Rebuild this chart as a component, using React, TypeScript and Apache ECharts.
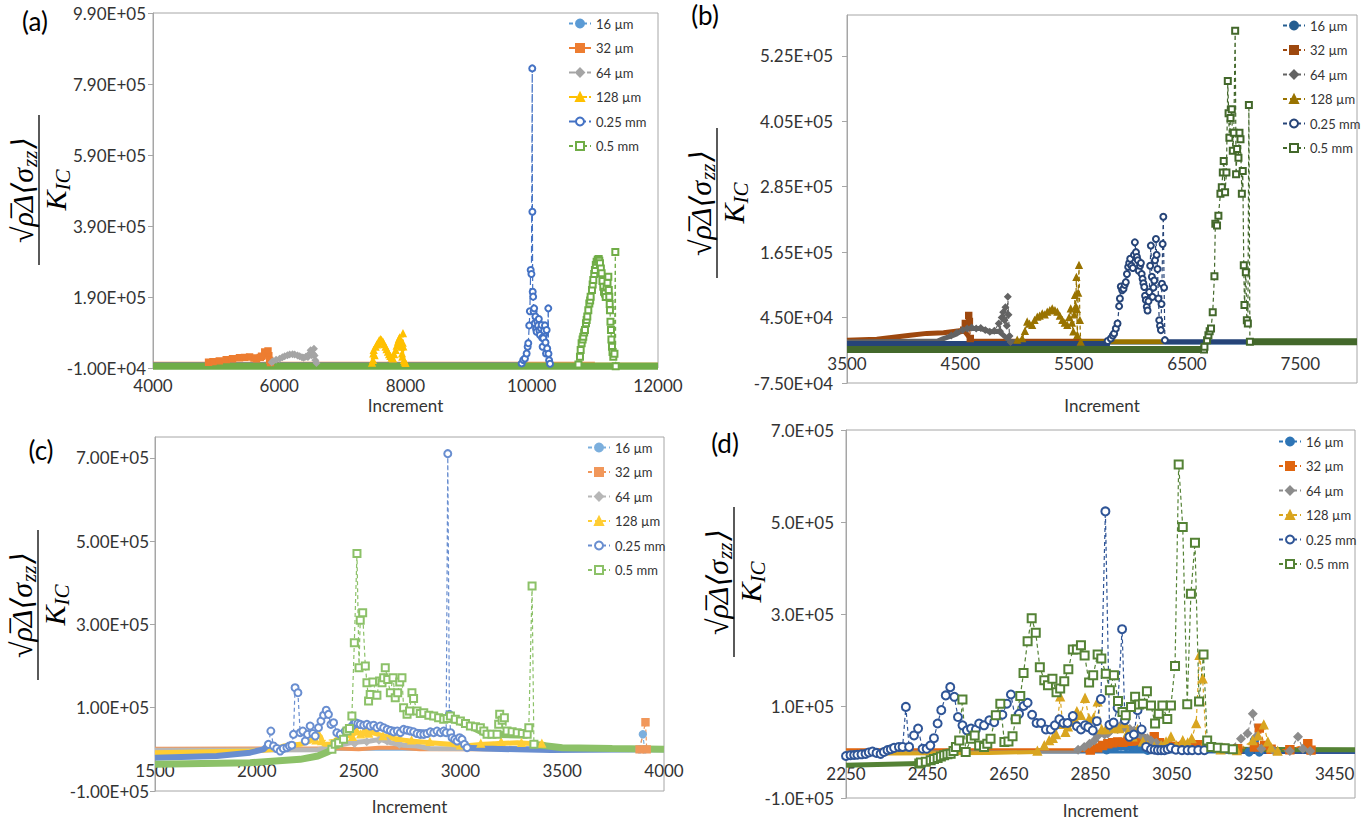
import React, { useEffect, useRef } from 'react';
import * as echarts from 'echarts';

type P = [number, number] | null;

// ---------- shared labels ----------
const SIZES = ['16 µm', '32 µm', '64 µm', '128 µm', '0.25 mm', '0.5 mm'];
const PANEL_TAGS = ['(a)', '(b)', '(c)', '(d)'];
const X_TITLE = 'Increment';

// ---------- axis ranges ----------
const A_X = [4000, 12000, 2000];
const A_Y = [-10000, 990000, 200000];
const B_X = [3500, 8000, 1000];
const B_Y = [-75000, 600000, 120000];
const C_X = [1500, 4000, 500];
const C_Y = [-100000, 750000, 200000];
const D_X = [2250, 3500, 200];
const D_Y = [-100000, 700000, 200000];

// ---------- panel (a) ----------
const A16_PTS: P[] = [];
const A16_BAND: P[] = [[4000, 0], [12000, 0]];
const A32_PTS: P[] = [[4880, 6000], [4950, 8000], [5050, 10000], [5160, 13500], [5260, 16000], [5370, 19000], [5450, 20000], [5530, 21000], [5600, 18000], [5640, 16000], [5700, 20000], [5720, 23000], [5770, 35000], [5800, 30000], [5822, 38000], [5835, 25000], [5848, 11600], [5860, 5000]];
const A32_BAND: P[] = [[4000, 5000], [11000, 5000]];
const A64_PTS: P[] = [[5880, 6000], [5901, 9000], [5950, 13000], [6006, 16000], [6050, 20000], [6086, 23000], [6130, 26000], [6165, 28000], [6210, 29000], [6244, 28000], [6290, 25000], [6323, 23000], [6360, 20000], [6387, 19000], [6420, 22000], [6455, 21000], [6480, 30000], [6497, 40000], [6515, 26000], [6534, 30000], [6550, 44000], [6560, 25000], [6571, 12000], [6590, 4000]];
const A64_BAND: P[] = [[4000, 3000], [12000, 3000]];
const A128_PTS: P[] = [[7470, 4000], [7485, 11600], [7490, 30000], [7496, 40000], [7510, 25000], [7527, 49000], [7545, 55000], [7564, 59000], [7580, 66000], [7601, 70000], [7620, 68000], [7643, 63000], [7660, 56000], [7685, 49000], [7700, 42000], [7722, 35000], [7740, 28000], [7760, 23000], [7780, 18000], [7802, 16000], [7820, 28000], [7844, 40000], [7860, 52000], [7881, 63000], [7895, 70000], [7907, 75000], [7920, 60000], [7934, 49000], [7945, 30000], [7950, 21000], [7955, 60000], [7960, 87000], [7965, 50000], [7976, 11600], [7986, 7000], [8000, 3000]];
const A128_BAND: P[] = [[4000, 2000], [12000, 2000]];
const A025_PTS: P[] = [[9840, 3000], [9866, 12500], [9892, 17000], [9919, 31000], [9935, 50000], [9945, 60000], [9960, 110000], [9970, 150000], [9983, 266000], [9995, 255000], [10008, 834000], [10010, 430000], [10015, 205000], [10022, 191000], [10030, 149000], [10038, 158000], [10048, 116000], [10058, 135000], [10068, 100000], [10077, 92000], [10088, 121000], [10100, 110000], [10112, 128000], [10122, 95000], [10130, 83000], [10145, 102000], [10157, 111000], [10165, 75000], [10172, 50000], [10183, 74000], [10195, 95000], [10209, 110000], [10218, 62000], [10226, 31000], [10236, 97000], [10245, 45000], [10262, 158000], [10265, 30000], [10275, 12000], [10290, 2000]];
const A025_BAND: P[] = [[4000, 0], [9840, 0], null, [10290, -4000], [11300, -4000]];
const A05_PTS: P[] = [[10740, 0], [10764, 22000], [10775, 41000], [10790, 60000], [10805, 70000], [10816, 78000], [10830, 90000], [10843, 97000], [10859, 116000], [10870, 125000], [10880, 135000], [10896, 153000], [10912, 172000], [10925, 180000], [10933, 191000], [10954, 210000], [10965, 225000], [10975, 238000], [10990, 255000], [11001, 266000], [11015, 280000], [11028, 289000], [11045, 295000], [11060, 297000], [11070, 292000], [11081, 285000], [11095, 270000], [11107, 257000], [11120, 235000], [11133, 219000], [11145, 205000], [11160, 200000], [11172, 190000], [11186, 219000], [11200, 230000], [11213, 247000], [11220, 210000], [11228, 191000], [11235, 170000], [11239, 153000], [11247, 120000], [11255, 97000], [11262, 70000], [11271, 50000], [11280, 35000], [11292, 22000], [11310, 30000], [11324, 317000], [11330, -5000]];
const A05_BAND: P[] = [[4000, -5000], [12000, -5000]];

// ---------- panel (b) ----------
const B16_PTS: P[] = [];
const B16_BAND: P[] = [[3500, -1500], [8000, -1500]];
const B32_PTS: P[] = [[4530, 22000], [4544, 34000], [4560, 30000], [4574, 49000], [4580, 38000], [4588, 6600]];
const B32_BAND: P[] = [[3500, 3600], [3763, 5400], [4058, 12700], [4205, 16000], [4352, 17000], [4530, 22000], [4588, 6600], [4600, 1500], [5800, 1500]];
const B64_PTS: P[] = [[4420, 12000], [4470, 17000], [4520, 22000], [4560, 25000], [4600, 27000], [4640, 25000], [4680, 26000], [4720, 22000], [4760, 19000], [4800, 21000], [4839, 34000], [4850, 20000], [4865, 45000], [4878, 55000], [4890, 40000], [4898, 64000], [4910, 30000], [4919, 83000], [4925, 50000], [4934, 11000], [4943, 0]];
const B64_BAND: P[] = [[3500, 0], [4300, 2000], [4352, 6600], [4441, 12700], [4500, 19000], [4588, 25000], [4677, 25000], [4765, 19000], [4839, 20000], [4943, 1000], [5000, 500]];
const B128_PTS: P[] = [[5002, 3600], [5046, 6600], [5070, 20000], [5090, 37000], [5110, 33000], [5134, 31000], [5155, 40000], [5179, 46000], [5200, 48000], [5223, 52000], [5245, 50000], [5267, 55000], [5290, 58000], [5311, 61000], [5335, 58000], [5356, 55000], [5378, 48000], [5400, 40000], [5422, 35000], [5444, 31000], [5460, 45000], [5474, 61000], [5485, 35000], [5497, 19000], [5505, 50000], [5512, 86000], [5518, 65000], [5524, 119000], [5528, 60000], [5532, 12700], [5540, 90000], [5547, 141000], [5555, 40000], [5562, 0]];
const B128_BAND: P[] = [[5562, 500], [6300, 500]];
const B025_PTS: P[] = [[5800, 2000], [5828, 6600], [5845, 12000], [5857, 16000], [5872, 25000], [5887, 34000], [5901, 66000], [5908, 80000], [5916, 102000], [5928, 95000], [5940, 98000], [5950, 105000], [5960, 110000], [5970, 125000], [5981, 138000], [5990, 145000], [5999, 153000], [6010, 140000], [6022, 136000], [6032, 160000], [6040, 183000], [6050, 165000], [6058, 156000], [6066, 150000], [6075, 131000], [6085, 140000], [6093, 145000], [6100, 125000], [6108, 116000], [6115, 108000], [6123, 101000], [6130, 85000], [6137, 77000], [6145, 65000], [6152, 58000], [6160, 75000], [6167, 92000], [6175, 140000], [6181, 177000], [6190, 120000], [6196, 83000], [6204, 100000], [6211, 113000], [6218, 150000], [6226, 189000], [6232, 160000], [6240, 134000], [6248, 80000], [6255, 40000], [6262, 30000], [6270, 22000], [6275, 70000], [6279, 107000], [6285, 180000], [6291, 230000], [6298, 100000], [6305, 3600]];
const B025_BAND: P[] = [[3500, -2500], [5820, -2500], null, [6305, 500], [7040, 500]];
const B05_PTS: P[] = [[6650, -13500], [6654, -8600], [6677, 3600], [6689, 12700], [6700, 20000], [6712, 25000], [6727, 55000], [6742, 121000], [6750, 217000], [6765, 214000], [6777, 232000], [6795, 272000], [6807, 284000], [6816, 311000], [6824, 332000], [6836, 275000], [6848, 311000], [6860, 479000], [6867, 420000], [6874, 375000], [6884, 411000], [6895, 427000], [6904, 351000], [6913, 384000], [6925, 571000], [6933, 308000], [6942, 354000], [6954, 338000], [6963, 384000], [6972, 372000], [6984, 272000], [6992, 314000], [7001, 141000], [7007, 68000], [7019, 128000], [7028, 40000], [7037, 34000], [7046, 435000], [7055, 500]];
const B05_BAND: P[] = [[3500, -13500], [6650, -13500], null, [7055, 500], [8000, 500]];

// ---------- panel (c) ----------
const C16_PTS: P[] = [[3880, 0], [3896, 36000], [3905, 0]];
const C16_BAND: P[] = [[1500, 0], [4000, 0]];
const C32_PTS: P[] = [[3880, 0], [3909, 65000], [3915, 0]];
const C32_BAND: P[] = [[1500, 1600], [2400, 2000], [2500, 0], [2600, 4000], [2700, 4000], [2800, 0], [4000, 0]];
const C64_PTS: P[] = [[2480, 14000], [2540, 18000], [2600, 22000], [2640, 20000], [2700, 12000]];
const C64_BAND: P[] = [[1500, -2400], [2300, -1000], [2459, 16000], [2557, 20000], [2606, 24000], [2656, 16000], [2721, 10000], [2787, 8000], [2850, 2000], [4000, 0]];
const C128_PTS: P[] = [[2290, 22000], [2305, 36000], [2318, 20000], [2470, 30000], [2490, 45000], [2510, 36000], [2530, 48000], [2550, 38000], [2580, 44000], [2620, 32000], [2660, 40000], [2700, 28000], [2760, 22000], [2850, 18000], [3000, 10000], [3100, 14000], [3200, 18000], [3300, 16000], [3400, 14000]];
const C128_BAND: P[] = [[1500, -8000], [1967, -4000], [2049, -1600], [2082, 0], [2131, 8000], [2213, 12000], [2262, 20000], [2295, 32000], [2311, 32000], [2328, 12000], [2361, 12000], [2393, 24000], [2443, 32000], [2492, 40000], [2524, 36000], [2557, 42000], [2623, 32000], [2688, 24000], [2754, 20000], [2852, 16000], [2951, 12000], [3016, 8000], [3115, 12000], [3279, 16000], [3410, 12000], [3443, 2000], [4000, 0]];
const C025_PTS: P[] = [[2057, 12000], [2069, 44000], [2082, 8000], [2098, 2000], [2115, -4000], [2130, 2000], [2148, 4000], [2160, 8000], [2172, 10000], [2180, 36000], [2188, 148000], [2202, 136000], [2213, 40000], [2226, 44000], [2238, 20000], [2249, 36000], [2262, 56000], [2275, 38000], [2287, 32000], [2303, 52000], [2315, 68000], [2328, 82000], [2341, 94000], [2352, 84000], [2364, 60000], [2377, 64000], [2393, 40000], [2410, 36000], [2434, 44000], [2459, 52000], [2472, 58000], [2484, 64000], [2496, 62000], [2508, 60000], [2525, 58000], [2541, 60000], [2557, 56000], [2574, 58000], [2590, 52000], [2606, 56000], [2623, 52000], [2640, 48000], [2656, 45000], [2672, 42000], [2690, 44000], [2705, 40000], [2721, 48000], [2738, 46000], [2754, 44000], [2770, 42000], [2787, 38000], [2803, 36000], [2820, 36000], [2836, 38000], [2852, 42000], [2869, 40000], [2885, 44000], [2902, 40000], [2918, 44000], [2930, 40000], [2938, 710000], [2946, 84000], [2952, 40000], [2959, 28000], [2972, 24000], [2984, 20000], [2996, 28000], [3008, 24000], [3020, 12000], [3033, 4000]];
const C025_BAND: P[] = [[1500, -20000], [1803, -16000], [1967, -8000], [2033, 0], [2057, 12000], null, [2440, 46000], [2508, 58000], [2623, 50000], [2721, 44000], [2852, 40000], [2930, 38000], null, [3033, 4000], [3115, 2000], [3279, 0], [3443, -1600], [4000, 0]];
const C05_PTS: P[] = [[2369, 0], [2385, 12000], [2402, 16000], [2426, 24000], [2443, 44000], [2455, 50000], [2467, 80000], [2479, 256000], [2492, 470000], [2502, 196000], [2508, 310000], [2520, 328000], [2533, 200000], [2541, 160000], [2549, 116000], [2557, 132000], [2570, 162000], [2590, 130000], [2603, 164000], [2615, 160000], [2623, 172000], [2631, 196000], [2643, 168000], [2656, 136000], [2669, 172000], [2680, 124000], [2692, 136000], [2702, 162000], [2713, 172000], [2721, 100000], [2738, 84000], [2750, 92000], [2762, 136000], [2770, 122000], [2787, 92000], [2803, 86000], [2820, 88000], [2845, 82000], [2869, 80000], [2893, 76000], [2918, 72000], [2935, 74000], [2951, 80000], [2975, 72000], [3000, 68000], [3025, 62000], [3049, 56000], [3074, 54000], [3098, 52000], [3115, 44000], [3131, 36000], [3155, 36000], [3180, 36000], [3188, 60000], [3193, 84000], [3205, 70000], [3216, 76000], [3229, 44000], [3254, 42000], [3279, 40000], [3304, 38000], [3328, 36000], [3336, 52000], [3352, 392000], [3361, 12000]];
const C05_BAND: P[] = [[1500, -36000], [1967, -32000], [2213, -24000], [2300, -16000], [2350, -6000], [2369, 0], null, [2787, 90000], [2869, 78000], [2951, 74000], [3049, 56000], [3131, 36000], [3330, 34000], null, [3361, 12000], [3500, 4000], [3746, 2000], [4000, 0]];

// ---------- panel (d) ----------
const D16_PTS: P[] = [[2890, 5000], [2901, 9000], [2913, 11000], [2925, 13000], [2938, 12000], [2950, 11000], [2963, 10000], [2975, 11000], [2991, 4000], null, [3240, 0], [3253, 25000], [3265, 0]];
const D16_BAND: P[] = [[2250, 0], [3500, 0]];
const D32_PTS: P[] = [[2850, 4000], [2868, 9000], [2880, 14000], [2893, 18000], [2905, 20000], [2917, 22000], [2930, 21000], [2942, 23000], [2952, 24000], [2962, 25000], [2975, 29000], [2991, 18000], [3007, 33000], [3020, 20000], [3040, 13000], [3060, 12000], [3080, 14000], [3100, 16000], [3114, 16000], [3140, 10000], [3170, 8000], [3212, 7000], [3253, 11000], [3265, 52000], [3278, 14000], [3294, 6000], [3340, 5000], [3384, 18000], [3392, 4000]];
const D32_BAND: P[] = [[2250, 4000], [2850, 4000], null, [3392, 4000], [3500, 4000]];
const D64_PTS: P[] = [[2820, 5000], [2835, 11000], [2848, 18000], [2860, 25000], [2868, 35000], [2876, 43000], [2885, 38000], [2893, 40000], [2901, 48000], [2909, 54000], [2917, 50000], [2925, 58000], [2931, 52000], [2937, 54000], [2947, 50000], [2958, 47000], [2968, 40000], [2979, 33000], [2990, 30000], [2999, 25000], [3012, 20000], [3024, 14000], [3036, 12000], [3048, 9000], [3080, 6000], [3120, 5000], [3160, 8000], [3190, 7000], [3220, 29000], [3236, 40000], [3249, 83000], [3257, 33000], [3270, 7000], [3300, 3000], [3340, 2000], [3360, 33000], [3372, 7000], [3390, 2000]];
const D64_BAND: P[] = [[2250, 0], [2820, 0], null, [3390, 2000], [3500, 0]];
const D128_PTS: P[] = [[2720, 2000], [2737, 14000], [2749, 25000], [2758, 30000], [2766, 38000], [2776, 120000], [2782, 60000], [2789, 43000], [2795, 55000], [2802, 65000], [2810, 75000], [2817, 88000], [2827, 80000], [2837, 117000], [2847, 72000], [2858, 74000], [2868, 109000], [2878, 49000], [2888, 49000], [2899, 58000], [2909, 51000], [2921, 51000], [2934, 62000], [2942, 43000], [2954, 33000], [2966, 49000], [2979, 22000], [2991, 14000], [3007, 11000], [3024, 14000], [3036, 22000], [3048, 33000], [3061, 14000], [3077, 25000], [3089, 20000], [3099, 29000], [3110, 62000], [3118, 210000], [3126, 159000], [3134, 25000], [3147, 11000], [3170, 5000], [3210, 3000], [3249, 25000], [3262, 35000], [3276, 59000], [3286, 22000], [3294, 9000], [3310, 2000]];
const D128_BAND: P[] = [[2250, -4000], [2600, -2000], [2720, 0], null, [3310, 2000], [3500, 0]];
const D025_PTS: P[] = [[2250, -8700], [2261, -7000], [2270, -6500], [2278, -6000], [2288, -5000], [2298, -4000], [2306, -1000], [2315, 1000], [2325, -2000], [2335, -4000], [2343, 0], [2352, 4000], [2360, 6000], [2368, 9000], [2380, 11000], [2389, 11000], [2397, 98000], [2405, 11000], [2417, 36000], [2427, 51000], [2438, 7000], [2448, 7000], [2457, 14000], [2466, 30000], [2475, 62000], [2484, 91000], [2495, 123000], [2506, 141000], [2516, 120000], [2525, 76000], [2536, 58000], [2547, 47000], [2557, 51000], [2569, 49000], [2577, 62000], [2589, 58000], [2602, 69000], [2614, 65000], [2624, 80000], [2634, 81000], [2645, 105000], [2655, 125000], [2666, 72000], [2675, 83000], [2686, 100000], [2696, 107000], [2707, 81000], [2718, 63000], [2729, 63000], [2741, 49000], [2753, 49000], [2763, 58000], [2774, 71000], [2784, 63000], [2794, 63000], [2807, 78000], [2817, 56000], [2827, 49000], [2837, 58000], [2845, 54000], [2856, 47000], [2866, 67000], [2876, 115000], [2887, 523000], [2897, 59000], [2907, 64000], [2917, 96000], [2928, 267000], [2935, 69000], [2946, 33000], [2957, 38000], [2966, 91000], [2976, 49000], [2987, 11000], [2999, 6000], [3008, 5000], [3016, 4000], [3024, 4000], [3032, 4000], [3040, 6000], [3048, 9000], [3060, 5000], [3075, 4000], [3089, 4000], [3100, 4000], [3115, 4000], [3130, 4000]];
const D025_BAND: P[] = [[3130, 4000], [3200, 0], [3500, 0]];
const D05_PTS: P[] = [[2430, -25000], [2434, -23000], [2446, -21000], [2458, -18000], [2466, -15000], [2475, -13000], [2483, -10000], [2491, -7000], [2499, -5000], [2507, -4000], [2514, 2000], [2520, 11000], [2528, 25000], [2536, 114000], [2544, 0], [2557, 29000], [2566, 36000], [2577, 14000], [2589, 11000], [2597, 18000], [2605, 29000], [2618, 80000], [2629, 105000], [2639, 22000], [2649, 23000], [2659, 34000], [2667, 71000], [2678, 122000], [2686, 172000], [2696, 241000], [2706, 291000], [2716, 259000], [2726, 184000], [2737, 156000], [2746, 145000], [2757, 159000], [2767, 130000], [2776, 138000], [2786, 154000], [2796, 180000], [2807, 223000], [2817, 223000], [2827, 232000], [2836, 210000], [2847, 151000], [2857, 167000], [2868, 212000], [2877, 203000], [2888, 170000], [2898, 134000], [2908, 167000], [2918, 111000], [2929, 87000], [2937, 80000], [2950, 98000], [2960, 120000], [2970, 103000], [2979, 105000], [2989, 132000], [2999, 101000], [3009, 62000], [3018, 83000], [3027, 101000], [3039, 72000], [3048, 101000], [3058, 187000], [3067, 625000], [3077, 489000], [3088, 104000], [3097, 344000], [3107, 455000], [3117, 110000], [3128, 212000], [3137, 25000], [3147, 11000], [3163, 9000], [3180, 8000], [3200, 6000]];
const D05_BAND: P[] = [[2250, -29000], [2430, -25000], null, [3200, 6000], [3500, 5000]];

// ---------- styling (not data) ----------
const SYMBOLS = ['circle', 'rect', 'diamond', 'triangle', 'emptyCircle', 'emptyRect'];
const FONT = 'Lato, "Open Sans", sans-serif';

type Panel = {
  id: string; tag: string;
  x: number[]; y: number[]; dec: number;
  grid: { left: number; top: number; width: number; height: number };
  colors: string[]; dash: any[]; bandW: number[]; sym: number;
  pts: P[][]; bands: P[][];
  legend: { left: number; top: number };
  tagPos: [number, number]; titlePos: [number, number]; incY: number;
  yMargin: number; showMaxX: boolean; showMaxY: boolean;
};

const PANELS: Panel[] = [
  {
    id: 'a', tag: PANEL_TAGS[0], x: A_X, y: A_Y, dec: 2,
    grid: { left: 153, top: 13, width: 505, height: 355 },
    colors: ['#5B9BD5', '#ED7D31', '#A5A5A5', '#FFC000', '#4472C4', '#70AD47'],
    dash: [[4, 3], 'solid', [6, 3], [8, 2], [7, 3], [4, 3]],
    bandW: [2, 2, 2, 2, 4, 7], sym: 6,
    pts: [A16_PTS, A32_PTS, A64_PTS, A128_PTS, A025_PTS, A05_PTS],
    bands: [A16_BAND, A32_BAND, A64_BAND, A128_BAND, A025_BAND, A05_BAND],
    legend: { left: 563, top: 12 }, tagPos: [35, 21], titlePos: [39, 190], incY: 405,
    yMargin: 7, showMaxX: true, showMaxY: true,
  },
  {
    id: 'b', tag: PANEL_TAGS[1], x: B_X, y: B_Y, dec: 2,
    grid: { left: 847, top: 15, width: 510, height: 368 },
    colors: ['#255E91', '#9E480E', '#636363', '#997300', '#264478', '#43682B'],
    dash: [[4, 3], [4, 3], [4, 3], [4, 3], [4, 3], [4, 3]],
    bandW: [3, 5, 5, 5, 5, 7], sym: 6,
    pts: [B16_PTS, B32_PTS, B64_PTS, B128_PTS, B025_PTS, B05_PTS],
    bands: [B16_BAND, B32_BAND, B64_BAND, B128_BAND, B025_BAND, B05_BAND],
    legend: { left: 1277, top: 14 }, tagPos: [705, 15], titlePos: [717, 203], incY: 405,
    yMargin: 14, showMaxX: false, showMaxY: false,
  },
  {
    id: 'c', tag: PANEL_TAGS[2], x: C_X, y: C_Y, dec: 2,
    grid: { left: 155, top: 437, width: 509, height: 354 },
    colors: ['#7CAFDD', '#F1975A', '#B7B7B7', '#FFCD33', '#698ED0', '#8CC168'],
    dash: [[4, 3], [4, 3], [4, 3], [4, 3], [4, 3], [4, 3]],
    bandW: [3, 4, 5, 5, 6, 7], sym: 7,
    pts: [C16_PTS, C32_PTS, C64_PTS, C128_PTS, C025_PTS, C05_PTS],
    bands: [C16_BAND, C32_BAND, C64_BAND, C128_BAND, C025_BAND, C05_BAND],
    legend: { left: 582, top: 436 }, tagPos: [41, 450], titlePos: [38, 605], incY: 806,
    yMargin: 6, showMaxX: true, showMaxY: false,
  },
  {
    id: 'd', tag: PANEL_TAGS[3], x: D_X, y: D_Y, dec: 1,
    grid: { left: 846, top: 430, width: 509, height: 368 },
    colors: ['#2E75B6', '#E0650F', '#8C8C8C', '#D9A520', '#2F5597', '#548235'],
    dash: [[4, 3], [4, 3], [4, 3], [4, 3], [4, 3], [4, 3]],
    bandW: [3, 4, 3, 4, 4, 5], sym: 8,
    pts: [D16_PTS, D32_PTS, D64_PTS, D128_PTS, D025_PTS, D05_PTS],
    bands: [D16_BAND, D32_BAND, D64_BAND, D128_BAND, D025_BAND, D05_BAND],
    legend: { left: 1273, top: 430 }, tagPos: [725, 443], titlePos: [734, 582], incY: 810,
    yMargin: 12, showMaxX: false, showMaxY: true,
  },
];

const fmtE = (d: number) => (v: number) => {
  const s = Number(v).toExponential(d);
  const [m, e] = s.split('e');
  const n = parseInt(e, 10);
  return m + 'E' + (n < 0 ? '-' : '+') + String(Math.abs(n)).padStart(2, '0');
};

function fracTitle(cx: number, cy: number) {
  const serif = '"Liberation Serif", "DejaVu Serif", serif';
  return {
    type: 'group', x: cx, y: cy, rotation: Math.PI / 2, silent: true,
    children: [
      {
        type: 'text', x: 0, y: -17,
        style: {
          text: '{a|√ρ̅Δ⟨σ}{s|zz}{a|⟩}', align: 'center', verticalAlign: 'middle',
          rich: {
            a: { fontSize: 30, fontFamily: serif, fontStyle: 'italic', lineHeight: 36, fill: '#000' },
            s: { fontSize: 21, fontFamily: serif, fontStyle: 'italic', lineHeight: 21, verticalAlign: 'bottom', fill: '#000', padding: [0, 2, 0, 1] },
          },
        },
      },
      { type: 'line', shape: { x1: -75, y1: 0, x2: 75, y2: 0 }, style: { stroke: '#000', lineWidth: 1.3 } },
      {
        type: 'text', x: 0, y: 16,
        style: {
          text: '{a|K}{s|IC}', align: 'center', verticalAlign: 'middle',
          rich: {
            a: { fontSize: 30, fontFamily: serif, fontStyle: 'italic', lineHeight: 36, fill: '#000' },
            s: { fontSize: 21, fontFamily: serif, fontStyle: 'italic', lineHeight: 21, verticalAlign: 'bottom', fill: '#000' },
          },
        },
      },
    ],
  };
}

export default function App() {
  const ref = useRef<HTMLDivElement>(null);
  useEffect(() => {
    if (!ref.current) return;
    const chart = echarts.init(ref.current, undefined, { renderer: 'svg' });
    const grids: any[] = [], xAxes: any[] = [], yAxes: any[] = [], legends: any[] = [], series: any[] = [], graphics: any[] = [];
    PANELS.forEach((p, gi) => {
      grids.push({ ...p.grid, show: true, borderColor: '#A6A6A6', borderWidth: 1, backgroundColor: 'transparent', containLabel: false });
      const zeroOffset = p.grid.height * (0 - p.y[0]) / (p.y[1] - p.y[0]);
      xAxes.push({
        type: 'value', gridIndex: gi, min: p.x[0], max: p.x[1], interval: p.x[2],
        position: 'bottom', offset: -zeroOffset,
        axisLine: { show: true, onZero: false, lineStyle: { color: '#D9D9D9' } },
        axisTick: { show: false }, splitLine: { show: false },
        axisLabel: { fontFamily: FONT, fontSize: 17, color: '#333', margin: 13, showMaxLabel: p.showMaxX, formatter: (v: number) => String(v) },
      });
      yAxes.push({
        type: 'value', gridIndex: gi, min: p.y[0], max: p.y[1], interval: p.y[2],
        axisLine: { show: true, lineStyle: { color: '#A6A6A6' } },
        axisTick: { show: true, length: 5, lineStyle: { color: '#A6A6A6' } }, splitLine: { show: false },
        axisLabel: { fontFamily: FONT, fontSize: 17, color: '#333', margin: p.yMargin, formatter: fmtE(p.dec), showMaxLabel: p.showMaxY },
      });
      legends.push({
        orient: 'vertical', left: p.legend.left, top: p.legend.top, itemWidth: 22, itemHeight: 10, itemGap: 11.5,
        selectedMode: false, data: SIZES.map((s) => `${p.id}|${s}`),
        formatter: (n: string) => n.split('|')[1],
        textStyle: { fontFamily: FONT, fontSize: 13, color: '#333' },
      });
      SIZES.forEach((s, i) => {
        series.push({
          type: 'line', name: `${p.id}|${s}`, xAxisIndex: gi, yAxisIndex: gi, data: p.pts[i],
          symbol: SYMBOLS[i], symbolSize: p.sym, showSymbol: true, showAllSymbol: true, z: 3,
          lineStyle: { color: p.colors[i], width: 1.2, type: p.dash[i] },
          itemStyle: { color: p.colors[i], borderColor: p.colors[i], borderWidth: 1.4 },
          emphasis: { disabled: true }, silent: true, animation: false,
        });
      });
      SIZES.forEach((s, i) => {
        series.push({
          type: 'line', name: `${p.id}|${s}`, xAxisIndex: gi, yAxisIndex: gi, data: p.bands[i],
          symbol: 'none', showSymbol: false, z: 2, connectNulls: false,
          lineStyle: { color: p.colors[i], width: p.bandW[i], type: 'solid' },
          itemStyle: { color: p.colors[i] },
          emphasis: { disabled: true }, silent: true, animation: false,
        });
      });
      graphics.push({ type: 'text', x: p.tagPos[0], y: p.tagPos[1], style: { text: p.tag, fontFamily: FONT, fontSize: 26, fill: '#000', align: 'center', verticalAlign: 'middle' } });
      graphics.push({ type: 'text', x: p.grid.left + p.grid.width / 2, y: p.incY, style: { text: X_TITLE, fontFamily: FONT, fontSize: 17, fill: '#333', align: 'center', verticalAlign: 'middle' } });
      graphics.push(fracTitle(p.titlePos[0], p.titlePos[1]));
    });
    chart.setOption({
      animation: false,
      backgroundColor: '#fff',
      grid: grids, xAxis: xAxes, yAxis: yAxes, legend: legends, series,
      graphic: { elements: graphics },
    });
    return () => chart.dispose();
  }, []);
  return <div ref={ref} style={{ position: 'fixed', left: 0, top: 0, width: 1362, height: 821 }} />;
}
